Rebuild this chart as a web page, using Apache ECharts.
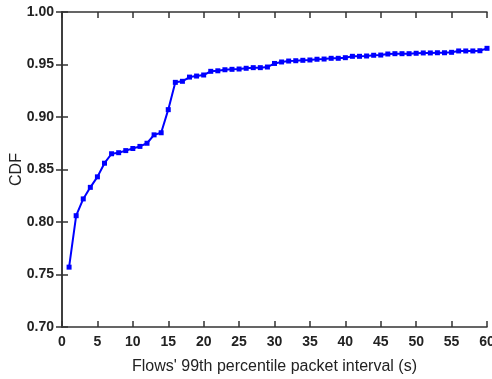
<!DOCTYPE html>
<html>
<head>
<meta charset="utf-8">
<script src="https://cdn.jsdelivr.net/npm/echarts@6/dist/echarts.min.js"></script>
<style>
  html, body { margin: 0; padding: 0; background: #fff; }
  #main { width: 492px; height: 379px; }
</style>
</head>
<body>
<div id="main"></div>
<script>
// flow interval (s) vs CDF
const intervals = [
  1, 2, 3, 4, 5, 6, 7, 8, 9, 10,
  11, 12, 13, 14, 15, 16, 17, 18, 19, 20,
  21, 22, 23, 24, 25, 26, 27, 28, 29, 30,
  31, 32, 33, 34, 35, 36, 37, 38, 39, 40,
  41, 42, 43, 44, 45, 46, 47, 48, 49, 50,
  51, 52, 53, 54, 55, 56, 57, 58, 59, 60
];
const cdf = [
  0.757, 0.806, 0.822, 0.833, 0.843, 0.856, 0.865, 0.866, 0.868, 0.870,
  0.872, 0.875, 0.883, 0.885, 0.907, 0.933, 0.934, 0.938, 0.939, 0.940,
  0.9435, 0.944, 0.945, 0.9454, 0.9457, 0.9464, 0.947, 0.947, 0.9476, 0.951,
  0.9524, 0.9533, 0.9536, 0.954, 0.9543, 0.955, 0.9552, 0.9559, 0.9559, 0.9565,
  0.9578, 0.9578, 0.9581, 0.9588, 0.959, 0.960, 0.9603, 0.9603, 0.9603, 0.9607,
  0.961, 0.961, 0.9612, 0.9612, 0.9616, 0.9629, 0.9629, 0.9629, 0.9631, 0.9654
];

const chart = echarts.init(document.getElementById('main'));

const axisColor = '#333333';
const labelFont = {
  fontFamily: 'Liberation Sans',
  fontSize: 14,
  fontWeight: 'bold',
  color: '#222',
};
const nameFont = { fontFamily: 'Liberation Sans', fontSize: 16, color: '#222' };

const option = {
  animation: false,
  grid: { left: 62, right: 5, top: 12, bottom: 52, outerBoundsMode: 'none', containLabel: false },
  xAxis: [
    {
      type: 'value',
      min: 0,
      max: 60,
      interval: 5,
      name: "Flows' 99th percentile packet interval (s)",
      nameLocation: 'middle',
      nameGap: 32,
      nameMoveOverlap: false,
      nameTextStyle: nameFont,
      axisLine: { lineStyle: { color: axisColor, width: 1.5 } },
      axisTick: { inside: true, length: 6, lineStyle: { color: axisColor, width: 1.5 } },
      axisLabel: { ...labelFont, margin: 8 },
      splitLine: { show: false },
    },
    {
      type: 'value',
      position: 'top',
      min: 0,
      max: 60,
      interval: 5,
      axisLine: { lineStyle: { color: axisColor, width: 1.5 } },
      axisTick: { inside: true, length: 6, lineStyle: { color: axisColor, width: 1.5 } },
      axisLabel: { show: false },
      splitLine: { show: false },
    },
  ],
  yAxis: [
    {
      type: 'value',
      min: 0.7,
      max: 1.0,
      interval: 0.05,
      name: 'CDF',
      nameLocation: 'middle',
      nameGap: 37,
      nameMoveOverlap: false,
      nameTextStyle: nameFont,
      axisLine: { lineStyle: { color: axisColor, width: 1.5 } },
      axisTick: { inside: true, length: 6, lineStyle: { color: axisColor, width: 1.5 } },
      axisLabel: { ...labelFont, margin: 8, formatter: (v) => v.toFixed(2) },
      splitLine: { show: false },
    },
    {
      type: 'value',
      position: 'right',
      min: 0.7,
      max: 1.0,
      interval: 0.05,
      axisLine: { show: true, lineStyle: { color: axisColor, width: 1.5 } },
      axisTick: { show: true, inside: true, length: 6, lineStyle: { color: axisColor, width: 1.5 } },
      axisLabel: { show: false },
      splitLine: { show: false },
    },
  ],
  series: [
    {
      type: 'line',
      data: intervals.map((x, i) => [x, cdf[i]]),
      symbol: 'rect',
      symbolSize: 5,
      itemStyle: { color: '#0000ff' },
      lineStyle: { color: '#0000ff', width: 2 },
    },
  ],
};

chart.setOption(option);
</script>
</body>
</html>
